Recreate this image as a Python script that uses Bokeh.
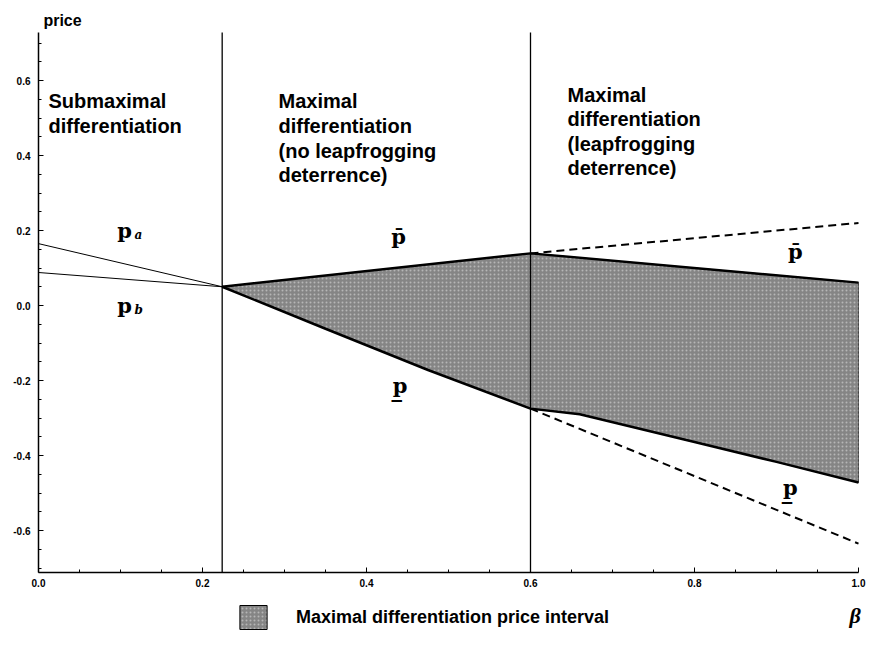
from bokeh.plotting import figure
from bokeh.models import (Range1d, FixedTicker, PrintfTickFormatter, Label,
                          Legend, LegendItem)
from bokeh.core.properties import value
from bokeh.embed import file_html
from bokeh.resources import INLINE

# ---------------- data ----------------
regime_bounds = [0.224, 0.6]

pa_beta = [0.0, 0.224]
pa_price = [0.165, 0.05]
pb_beta = [0.0, 0.224]
pb_price = [0.088, 0.05]

upper_beta = [0.224, 0.6, 1.0]
upper_price = [0.05, 0.139, 0.061]
lower_beta = [0.224, 0.35, 0.475, 0.6, 0.66, 0.8, 0.9, 1.0]
lower_price = [0.05, -0.062, -0.172, -0.275, -0.29, -0.364, -0.417, -0.472]

dash_up_beta = [0.6, 1.0]
dash_up_price = [0.139, 0.22]
dash_lo_beta = [0.6, 1.0]
dash_lo_price = [-0.275, -0.635]

x_ticks = [0.0, 0.2, 0.4, 0.6, 0.8, 1.0]
x_minor = [0.05, 0.1, 0.15, 0.25, 0.3, 0.35, 0.45, 0.5, 0.55, 0.65, 0.7, 0.75, 0.85, 0.9, 0.95]
y_ticks = [-0.6, -0.4, -0.2, 0.0, 0.2, 0.4, 0.6]
y_minor = [-0.7, -0.65, -0.55, -0.5, -0.45, -0.35, -0.3, -0.25, -0.15, -0.1, -0.05,
           0.05, 0.1, 0.15, 0.25, 0.3, 0.35, 0.45, 0.5, 0.55, 0.65, 0.7]

axis_x_extent = (0.0, 1.0)
axis_y_extent = (-0.712, 0.728)

region_texts = ["Submaximal\ndifferentiation",
                "Maximal\ndifferentiation\n(no leapfrogging\ndeterrence)",
                "Maximal\ndifferentiation\n(leapfrogging\ndeterrence)"]
legend_label = "Maximal differentiation price interval"

# ---------------- figure ----------------
# the frame covers the whole page; the axes are pinned at the data origin corner
p = figure(width=869, height=650,
           x_range=Range1d(-38 / 820, 1 + 11 / 820),
           y_range=Range1d(-345 / 375, 305 / 375),
           output_backend="svg", toolbar_location=None,
           min_border_left=0, min_border_right=0, min_border_top=0, min_border_bottom=0)
p.xgrid.grid_line_color = None
p.ygrid.grid_line_color = None
p.outline_line_color = None
p.background_fill_color = "white"
p.border_fill_color = "white"

for ax in (p.xaxis[0], p.yaxis[0]):
    ax.axis_line_color = "black"
    ax.axis_line_width = 1.5
    ax.major_tick_in = 5
    ax.major_tick_out = 0
    ax.minor_tick_in = 3
    ax.minor_tick_out = 0
    ax.major_tick_line_color = "black"
    ax.minor_tick_line_color = "black"
    ax.major_label_text_font = "Liberation Sans"
    ax.major_label_text_font_style = "bold"
    ax.major_label_text_font_size = "10px"
    ax.major_label_text_color = "black"
    ax.formatter = PrintfTickFormatter(format="%.1f")

p.xaxis[0].ticker = FixedTicker(ticks=x_ticks, minor_ticks=x_minor)
p.yaxis[0].ticker = FixedTicker(ticks=y_ticks, minor_ticks=y_minor)
p.xaxis[0].fixed_location = axis_y_extent[0]
p.yaxis[0].fixed_location = axis_x_extent[0]
p.xaxis[0].bounds = axis_x_extent
p.yaxis[0].bounds = axis_y_extent
p.xaxis[0].major_label_standoff = 6
p.yaxis[0].major_label_standoff = 8

fill_kw = dict(fill_color="#858585", hatch_pattern="dot", hatch_color="white",
               hatch_scale=4, hatch_alpha=0.4)

shade_x = upper_beta + lower_beta[::-1]
shade_y = upper_price + lower_price[::-1]

# thin outline of the interval (under everything, gives the legend swatch its border)
outline = p.patch(shade_x, shade_y, fill_alpha=0, line_color="black", line_width=1,
                  level="underlay")
# shaded interval
shade = p.patch(shade_x, shade_y, line_color=None, **fill_kw)

# regime boundaries
p.segment(x0=regime_bounds, x1=regime_bounds,
          y0=[axis_y_extent[0]] * len(regime_bounds), y1=[axis_y_extent[1]] * len(regime_bounds),
          line_color="black", line_width=1.3)

# submaximal prices
p.line(pa_beta, pa_price, line_color="black", line_width=1)
p.line(pb_beta, pb_price, line_color="black", line_width=1)

# interval boundaries
p.line(upper_beta, upper_price, line_color="black", line_width=2.5)
p.line(lower_beta, lower_price, line_color="black", line_width=2.5)
p.line(dash_up_beta, dash_up_price, line_color="black", line_width=2, line_dash="8 5")
p.line(dash_lo_beta, dash_lo_price, line_color="black", line_width=2, line_dash="8 5")

# curve labels
serif = value("DejaVu Serif")
p.text(x=[0.105, 0.105], y=[0.2, 0.0], text=["p", "p"], text_font=serif,
       text_font_style="bold", text_font_size="21px", text_align="center",
       text_baseline="middle", text_color="black")
p.text(x=[0.117, 0.117], y=[0.187, -0.013], text=["a", "b"], text_font=serif,
       text_font_style="bold italic", text_font_size="12px", text_align="left",
       text_baseline="middle", text_color="black")
p.text(x=[0.439, 0.923], y=[0.185, 0.145], text=["p\u0304", "p\u0304"], text_font=serif,
       text_font_style="bold", text_font_size="21px", text_align="center",
       text_baseline="middle", text_color="black")
p.text(x=[0.441, 0.917], y=[-0.213, -0.485], text=["p\u0332", "p\u0332"], text_font=serif,
       text_font_style="bold", text_font_size="21px", text_align="center",
       text_baseline="middle", text_color="black")

# regime texts
for (tx, ty), t in zip([(0.0122, 0.574), (0.2927, 0.574), (0.6451, 0.592)], region_texts):
    p.add_layout(Label(x=tx, y=ty, text=t, text_font="Liberation Sans", text_font_style="bold",
                       text_font_size="20px", text_align="left", text_baseline="top",
                       text_line_height=1.12, text_color="black"))

# axis titles
p.add_layout(Label(x=0.006, y=0.76, text="price", text_font="Liberation Sans",
                   text_font_style="bold", text_font_size="16px", text_align="left",
                   text_baseline="middle", text_color="black"))
p.add_layout(Label(x=0.996, y=-0.827, text="\u03b2", text_font="Liberation Serif",
                   text_font_style="bold italic", text_font_size="22px", text_align="center",
                   text_baseline="middle", text_color="black"))

# legend
legend = Legend(items=[LegendItem(label=legend_label, renderers=[shade, outline])],
                location=(236, 18), orientation="horizontal",
                border_line_color=None, background_fill_alpha=0,
                padding=0, margin=0, glyph_width=34, glyph_height=30,
                label_standoff=26, label_text_font="Liberation Sans",
                label_text_font_style="bold", label_text_font_size="18px",
                label_text_color="black")
p.add_layout(legend)

open("out.html", "w").write(file_html(p, INLINE))
